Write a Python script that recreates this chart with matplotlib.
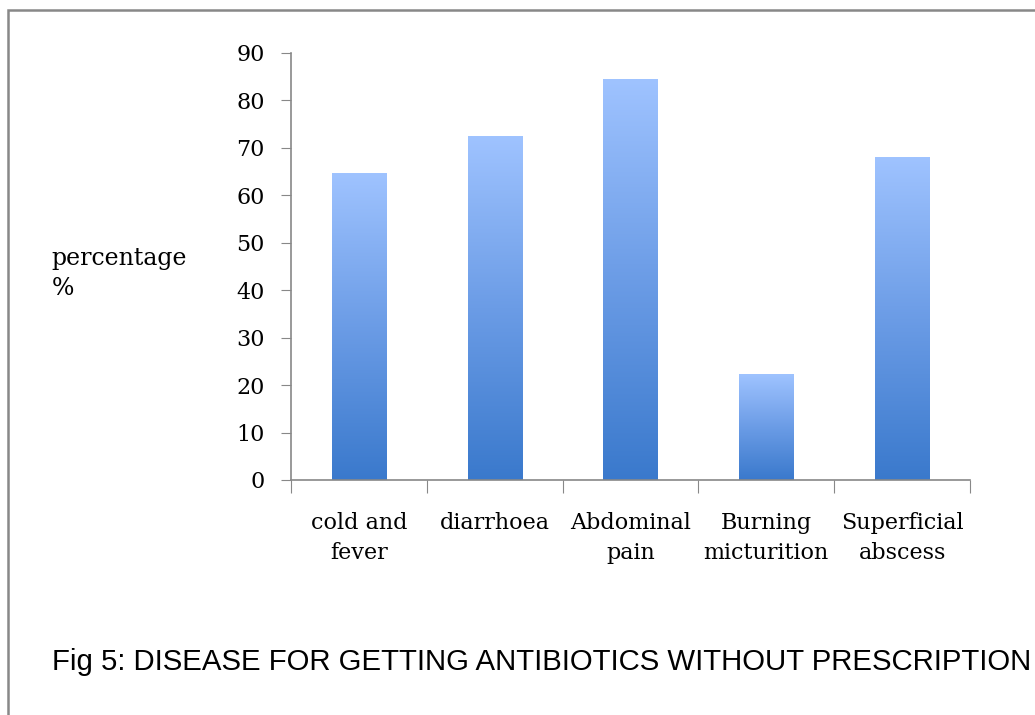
import numpy as np
import matplotlib.pyplot as plt
from matplotlib.colors import LinearSegmentedColormap
from matplotlib.patches import Rectangle

categories = ['cold and\nfever', 'diarrhoea', 'Abdominal\npain', 'Burning\nmicturition', 'Superficial\nabscess']
values = [64.5, 72.5, 84.5, 22.2, 68.0]
yticks = [0, 10, 20, 30, 40, 50, 60, 70, 80, 90]

fig = plt.figure(figsize=(10.35, 7.15), dpi=100)
ax = fig.add_axes([0.2812, 0.3287, 0.9372 - 0.2812, 0.9259 - 0.3287])

# gradient light at the top, dark at the bottom of each bar
cmap = LinearSegmentedColormap.from_list('bar', ['#3a79cc', '#6b9ce6', '#9fc3ff'])
grad = np.linspace(0, 1, 256).reshape(-1, 1)
width = 0.4
for i, v in enumerate(values):
    ax.imshow(grad, cmap=cmap, origin='lower', aspect='auto',
              extent=[i - width / 2, i + width / 2, 0, v], zorder=2)

serif = 'DejaVu Serif'
ax.set_xlim(-0.5, len(values) - 0.5)
ax.set_ylim(0, 90)
ax.set_yticks(yticks)
ax.set_yticklabels([str(t) for t in yticks], fontsize=16, family=serif)
ax.set_xticks(np.arange(len(values) + 1) - 0.5, minor=False)
ax.set_xticklabels([])
ax.set_xticks(np.arange(len(values)), minor=True)
ax.set_xticklabels(categories, minor=True, fontsize=16, family=serif, linespacing=1.45)
ax.tick_params(axis='x', which='minor', length=0, pad=23)
ax.tick_params(axis='x', which='major', length=9, color='#888888', direction='out')
ax.tick_params(axis='y', length=7, color='#888888', direction='out', pad=12)

for s in ['top', 'right']:
    ax.spines[s].set_visible(False)
for s in ['left', 'bottom']:
    ax.spines[s].set_color('#888888')
    ax.spines[s].set_linewidth(1.2)

fig.text(0.05, 0.617, 'percentage\n%', fontsize=17, family=serif,
         ha='left', va='center', linespacing=1.4)
fig.text(0.05, 0.074, 'Fig 5: DISEASE FOR GETTING ANTIBIOTICS WITHOUT PRESCRIPTION',
         fontsize=21.2, family='Liberation Sans', ha='left', va='center')

fig.patches.append(Rectangle((8 / 1035, -0.1), 1.2, 1 - 10 / 715 + 0.1, transform=fig.transFigure,
                             fill=False, edgecolor='#888888', linewidth=1.8))

fig.savefig('out.png', dpi=100)
